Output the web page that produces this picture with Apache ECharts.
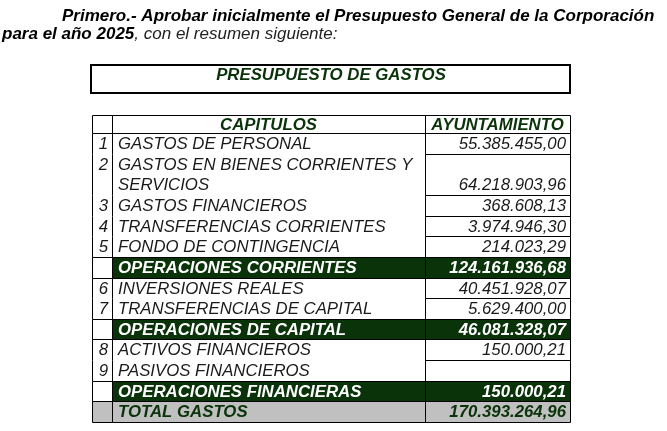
<!DOCTYPE html>
<html>
<head>
<meta charset="utf-8">
<script src="https://cdn.jsdelivr.net/npm/echarts@6/dist/echarts.min.js"></script>
<style>
  html, body { margin: 0; padding: 0; background: #fff; }
  #chart { width: 667px; height: 431px; }
</style>
</head>
<body>
<div id="chart"></div>
<script>
// datos de la tabla
var headers = ['', 'CAPITULOS', 'AYUNTAMIENTO'];
var rowNums = ['1', '2', '3', '4', '5', '', '6', '7', '', '8', '9', '', ''];
var rowLabels = [
  'GASTOS DE PERSONAL',
  'GASTOS EN BIENES CORRIENTES Y\nSERVICIOS',
  'GASTOS FINANCIEROS',
  'TRANSFERENCIAS CORRIENTES',
  'FONDO DE CONTINGENCIA',
  'OPERACIONES CORRIENTES',
  'INVERSIONES REALES',
  'TRANSFERENCIAS DE CAPITAL',
  'OPERACIONES DE CAPITAL',
  'ACTIVOS FINANCIEROS',
  'PASIVOS FINANCIEROS',
  'OPERACIONES FINANCIERAS',
  'TOTAL GASTOS'
];
var rowValues = [
  '55.385.455,00', '64.218.903,96', '368.608,13', '3.974.946,30', '214.023,29',
  '124.161.936,68', '40.451.928,07', '5.629.400,00', '46.081.328,07',
  '150.000,21', '', '150.000,21', '170.393.264,96'
];
var rowKinds = ['item', 'item', 'item', 'item', 'item', 'sub', 'item', 'item', 'sub', 'item', 'item', 'sub', 'total'];
var rowSpans = [1, 2, 1, 1, 1, 1, 1, 1, 1, 1, 1, 1, 1];

// disposicion
var HEAD_H = 0.875;
var colEdges = [0, 20, 333, 478];
var GREEN = '#0a330a';
var GRAY = '#c0c0c0';
var FONT = '"Liberation Sans", Arial, sans-serif';

var rowStarts = [];
var acc = HEAD_H;
for (var k = 0; k < rowSpans.length; k++) {
  rowStarts.push(acc);
  acc += rowSpans[k];
}
var totalUnits = acc;

var chart = echarts.init(document.getElementById('chart'));

function renderItem(params, api) {
  var i = api.value(0);
  var top, bot, kind;
  if (i < 0) {
    top = 0; bot = HEAD_H; kind = 'head';
  } else {
    top = rowStarts[i]; bot = top + rowSpans[i]; kind = rowKinds[i];
  }
  var children = [];
  function px(x, y) { return api.coord([x, y]); }
  function cellRect(c) {
    var p0 = px(colEdges[c], top);
    var p1 = px(colEdges[c + 1], bot);
    var x0 = Math.round(p0[0]) + 0.5, y0 = Math.round(p0[1]) + 0.5;
    var x1 = Math.round(p1[0]) + 0.5, y1 = Math.round(p1[1]) + 0.5;
    return { x: x0, y: y0, width: x1 - x0, height: y1 - y0 };
  }
  function addRect(c, fill, stroke) {
    children.push({
      type: 'rect',
      shape: cellRect(c),
      style: { fill: fill || 'none', stroke: stroke ? '#000' : 'none', lineWidth: 1 }
    });
  }
  function addVLines(c) {
    var r = cellRect(c);
    [r.x, r.x + r.width].forEach(function (x) {
      children.push({
        type: 'line',
        shape: { x1: x, y1: r.y, x2: x, y2: r.y + r.height },
        style: { stroke: '#000', lineWidth: 1 }
      });
    });
  }
  function addText(txt, x, y, align, font, color) {
    children.push({
      type: 'text',
      style: {
        text: txt, x: x, y: y,
        textAlign: align, textVerticalAlign: 'middle',
        font: font, fill: color
      }
    });
  }
  var italic = 'italic 16.8px ' + FONT;
  var bold = 'italic bold 16.8px ' + FONT;

  if (kind === 'head') {
    addRect(0, null, true); addRect(1, null, true); addRect(2, null, true);
    var yc = px(0, HEAD_H / 2)[1] + 1;
    addText(headers[1], (px(colEdges[1], 0)[0] + px(colEdges[2], 0)[0]) / 2, yc, 'center', bold, GREEN);
    addText(headers[2], (px(colEdges[2], 0)[0] + px(colEdges[3], 0)[0]) / 2, yc, 'center', bold, GREEN);
    return { type: 'group', children: children };
  }

  var fill = kind === 'sub' ? GREEN : (kind === 'total' ? GRAY : null);
  var txtColor = kind === 'sub' ? '#fff' : (kind === 'total' ? GREEN : '#1a1a1a');
  var font = kind === 'item' ? italic : bold;

  if (kind === 'item') {
    addVLines(0);
  } else {
    addRect(0, kind === 'total' ? GRAY : null, true);
  }
  if (fill) addRect(1, fill, true);
  addRect(2, fill, true);

  var lines = rowLabels[i].split('\n');
  var xNum = px(colEdges[1], 0)[0] - 4;
  var xLab = px(colEdges[1], 0)[0] + 6;
  var xVal = px(colEdges[3], 0)[0] - 4;
  for (var l = 0; l < lines.length; l++) {
    addText(lines[l], xLab, px(0, top + l + 0.5)[1] + 1, 'left', font, txtColor);
  }
  if (rowNums[i]) addText(rowNums[i], xNum, px(0, top + 0.5)[1] + 1, 'right', italic, '#1a1a1a');
  if (rowValues[i]) addText(rowValues[i], xVal, px(0, bot - 0.5)[1] + 1, 'right', font, txtColor);

  return { type: 'group', children: children };
}

var data = [[-1]];
for (var r = 0; r < rowLabels.length; r++) data.push([r]);

var option = {
  backgroundColor: '#ffffff',
  animation: false,
  title: [{
    text: 'Primero.- Aprobar inicialmente el Presupuesto General de la Corporación',
    left: 62, top: 8, padding: 0,
    textStyle: { fontFamily: FONT, fontStyle: 'italic', fontWeight: 'bold', fontSize: 17, color: '#000' }
  }, {
    text: '{b|para el año 2025}{n|, con el resumen siguiente:}',
    left: 2, top: 26, padding: 0,
    textStyle: {
      rich: {
        b: { fontFamily: FONT, fontStyle: 'italic', fontWeight: 'bold', fontSize: 17, color: '#000' },
        n: { fontFamily: FONT, fontStyle: 'italic', fontWeight: 'normal', fontSize: 17, color: '#222' }
      }
    }
  }],
  graphic: [{
    type: 'rect',
    shape: { x: 91, y: 65, width: 479, height: 28 },
    style: { fill: 'none', stroke: '#000', lineWidth: 2 }
  }, {
    type: 'text',
    style: {
      text: 'PRESUPUESTO DE GASTOS', x: 331, y: 75,
      textAlign: 'center', textVerticalAlign: 'middle',
      font: 'italic bold 16.8px ' + FONT, fill: GREEN
    }
  }],
  grid: { left: 92, right: 97, top: 115, bottom: 9 },
  xAxis: { type: 'value', min: 0, max: colEdges[3], show: false },
  yAxis: { type: 'value', min: 0, max: totalUnits, inverse: true, show: false },
  series: [{
    type: 'custom',
    renderItem: renderItem,
    clip: false,
    encode: { x: -1, y: -1 },
    data: data
  }]
};

chart.setOption(option);
</script>
</body>
</html>
